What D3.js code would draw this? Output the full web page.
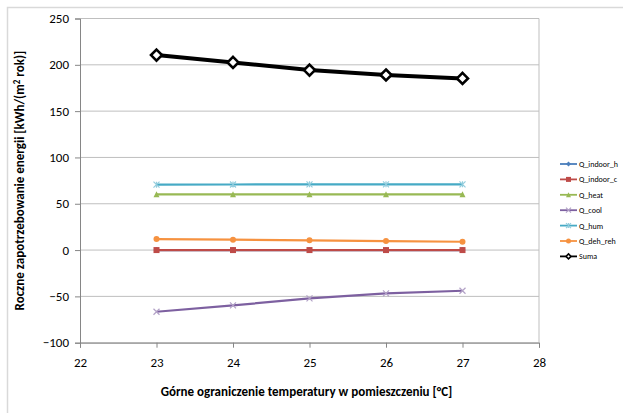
<!DOCTYPE html>
<html>
<head>
<meta charset="utf-8">
<script src="https://cdn.jsdelivr.net/npm/d3@7"></script>
<style>
  body { margin: 0; background: #fff; }
  svg { font-family: Carlito, Calibri, "Open Sans", sans-serif; }
</style>
</head>
<body>
<svg id="drawing_region"></svg>
<script>
// data
const temps = [23, 24, 25, 26, 27];
const q_indoor_h = [0, 0, 0, 0, 0];
const q_indoor_c = [0, 0, 0, 0, 0];
const q_heat = [60.2, 60.2, 60.2, 60.2, 60.2];
const q_cool = [-66.6, -59.7, -52.2, -46.8, -43.9];
const q_hum = [70.6, 70.8, 71.0, 71.0, 71.0];
const q_deh_reh = [11.9, 11.2, 10.5, 9.7, 9.0];
const suma = [210.5, 202.6, 194.3, 189.0, 185.3];
const xticks = [22, 23, 24, 25, 26, 27, 28];
const yticks = [-100, -50, 0, 50, 100, 150, 200, 250];

const series = [
    { name: 'Q_indoor_h', values: q_indoor_h, color: '#4a7ebb', marker: 'diamond' },
    { name: 'Q_indoor_c', values: q_indoor_c, color: '#be4b48', marker: 'square' },
    { name: 'Q_heat', values: q_heat, color: '#98b954', marker: 'triangle' },
    { name: 'Q_cool', values: q_cool, color: '#7d60a0', marker: 'x' },
    { name: 'Q_hum', values: q_hum, color: '#46aac5', marker: 'star' },
    { name: 'Q_deh_reh', values: q_deh_reh, color: '#f69240', marker: 'circle' },
    { name: 'Suma', values: suma, color: '#000000', marker: 'open_diamond' }
];

const config = {
    width: 623,
    height: 413,
    margin: { top: 18.5, right: 84, bottom: 70, left: 80 }
};

const svg = d3.select('#drawing_region')
    .attr('width', config.width)
    .attr('height', config.height);

// outer chart frame
svg.append('rect')
    .attr('x', 7.5).attr('y', 7.5)
    .attr('width', 640).attr('height', 430)
    .attr('fill', 'none')
    .attr('stroke', '#d9d9d9')
    .attr('stroke-width', 1.5);

const inner_width = config.width - config.margin.left - config.margin.right;
const inner_height = 342.7 - config.margin.top;

const chart = svg.append('g')
    .attr('transform', `translate(${config.margin.left}, ${config.margin.top})`);

const xscale = d3.scaleLinear().domain([22, 28]).range([0, inner_width]);
const yscale = d3.scaleLinear().domain([-100, 250]).range([inner_height, 0]);

// gridlines
chart.append('g')
    .selectAll('line')
    .data(yticks)
    .join('line')
    .attr('x1', 0).attr('x2', inner_width)
    .attr('y1', d => yscale(d)).attr('y2', d => yscale(d))
    .attr('stroke', '#bfbfbf')
    .attr('stroke-width', 1);

// plot area right border
chart.append('line')
    .attr('x1', inner_width).attr('x2', inner_width)
    .attr('y1', 0).attr('y2', inner_height)
    .attr('stroke', '#bfbfbf');

// axes
const yaxis = d3.axisLeft(yscale).tickValues(yticks).tickSize(5).tickPadding(6);
const xaxis = d3.axisBottom(xscale).tickValues(xticks).tickFormat(d3.format('d')).tickSize(5).tickPadding(10);

const yaxis_group = chart.append('g').call(yaxis);
const xaxis_group = chart.append('g')
    .attr('transform', `translate(0, ${inner_height})`)
    .call(xaxis);

[yaxis_group, xaxis_group].forEach(g => {
    g.select('.domain').attr('stroke', '#868686');
    g.selectAll('.tick line').attr('stroke', '#868686');
    g.selectAll('.tick text')
        .attr('fill', '#000')
        .style('font-size', '13px')
        .style('font-family', 'Carlito, Calibri, "Open Sans", sans-serif');
});

// titles
svg.append('text')
    .attr('x', config.margin.left + inner_width / 2 - 3)
    .attr('y', 396)
    .attr('text-anchor', 'middle')
    .style('font-size', '13px')
    .style('font-weight', 'bold')
    .text('Górne ograniczenie temperatury w pomieszczeniu [°C]');

const ytitle = svg.append('text')
    .attr('transform', `translate(24, ${config.margin.top + inner_height / 2}) rotate(-90)`)
    .attr('text-anchor', 'middle')
    .style('font-size', '13px')
    .style('font-weight', 'bold');
ytitle.append('tspan').text('Roczne zapotrzebowanie energii [kWh/(m');
ytitle.append('tspan').attr('dy', -4).style('font-size', '9px').text('2');
ytitle.append('tspan').attr('dy', 4).text(' rok)]');

// marker drawing
function drawMarker(g, type, color, s) {
    const h = s / 2;
    if (type === 'diamond') {
        g.append('path').attr('d', `M0,${-h}L${h},0L0,${h}L${-h},0Z`).attr('fill', color);
    } else if (type === 'square') {
        g.append('rect').attr('x', -h).attr('y', -h).attr('width', s).attr('height', s).attr('fill', color);
    } else if (type === 'triangle') {
        g.append('path').attr('d', `M0,${-h}L${h},${h}L${-h},${h}Z`).attr('fill', color);
    } else if (type === 'x') {
        g.append('path').attr('d', `M${-h},${-h}L${h},${h}M${-h},${h}L${h},${-h}`)
            .attr('stroke', '#b3a2c7').attr('stroke-width', 1.2).attr('fill', 'none');
    } else if (type === 'star') {
        g.append('path').attr('d', `M${-h},${-h}L${h},${h}M${-h},${h}L${h},${-h}M0,${-h}L0,${h}`)
            .attr('stroke', '#93cddd').attr('stroke-width', 1.2).attr('fill', 'none');
    } else if (type === 'circle') {
        g.append('circle').attr('r', h).attr('fill', color);
    } else if (type === 'open_diamond') {
        g.append('path').attr('d', `M0,${-h}L${h},0L0,${h}L${-h},0Z`)
            .attr('fill', '#fff').attr('stroke', color).attr('stroke-width', s > 6 ? 2.6 : 1.5);
    }
}

const line = d3.line()
    .x((d, i) => xscale(temps[i]))
    .y(d => yscale(d));

series.forEach(s => {
    const g = chart.append('g');
    g.append('path')
        .datum(s.values)
        .attr('d', line)
        .attr('fill', 'none')
        .attr('stroke', s.color)
        .attr('stroke-width', s.name === 'Suma' ? 4 : 2.2);
    s.values.forEach((v, i) => {
        const m = g.append('g').attr('transform', `translate(${xscale(temps[i])}, ${yscale(v)})`);
        drawMarker(m, s.marker, s.color, s.name === 'Suma' ? 11 : 6);
    });
});

// legend
const legend = svg.append('g').attr('transform', 'translate(560, 164)');
series.forEach((s, i) => {
    const row = legend.append('g').attr('transform', `translate(0, ${i * 15.4})`);
    row.append('line').attr('x1', 0).attr('x2', 17).attr('y1', 0).attr('y2', 0)
        .attr('stroke', s.color).attr('stroke-width', 1.8);
    const m = row.append('g').attr('transform', 'translate(8.5, 0)');
    drawMarker(m, s.marker, s.color, 5);
    row.append('text')
        .attr('x', 19).attr('y', 3)
        .style('font-size', '8px')
        .text(s.name);
});
</script>
</body>
</html>
